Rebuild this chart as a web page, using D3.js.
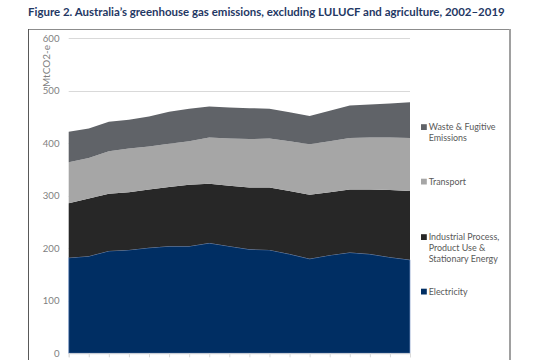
<!DOCTYPE html>
<html>
<head>
<meta charset="utf-8">
<script src="https://cdn.jsdelivr.net/npm/d3@7"></script>
<style>
  html, body { margin: 0; padding: 0; background: #fff; }
  svg { display: block; }
  text { font-family: Lato, "Open Sans", sans-serif; }
</style>
</head>
<body>
<svg id="chart" width="540" height="360"></svg>
<script>
// ---- data (MtCO2-e) ----
const years = [2002,2003,2004,2005,2006,2007,2008,2009,2010,2011,2012,2013,2014,2015,2016,2017,2018,2019];
const electricity = [182,185,195,197,201,204,204,210,204,198,197,189,180,187,192,189,183,178];
const industrial  = [104,110,109,110,111,113,117,113,115,118,119,120,122,120,120,123,128,131];
const transport   = [78,77,81,83,82,82,83,88,90,92,93,95,96,97,98,99,100,101];
const waste       = [58,56,56,55,57,61,62,59,59,59,57,55,54,58,62,63,65,68];
const yTicks = [0,100,200,300,400,500,600];
const seriesKeys = ["electricity","industrial","transport","waste"];
const seriesValues = {electricity, industrial, transport, waste};
const legendLabels = {
  waste: ["Waste & Fugitive","Emissions"],
  transport: ["Transport"],
  industrial: ["Industrial Process,","Product Use &","Stationary Energy"],
  electricity: ["Electricity"]
};
const titleText = "Figure 2. Australia\u2019s greenhouse gas emissions, excluding LULUCF and agriculture, 2002\u20132019";
const yTitle = "MtCO2-e";

// ---- styles ----
const colors = {electricity:"#002e63", industrial:"#272727", transport:"#a6a6a6", waste:"#606368"};

const svg = d3.select("#chart");

function fitWidth(sel, target) {
  const w = sel.node().getComputedTextLength();
  const fs = parseFloat(sel.attr("font-size"));
  sel.attr("font-size", (fs * target / w).toFixed(2));
}

// title
const title = svg.append("text").attr("x", 28).attr("y", 15.5)
  .attr("font-size", 12).attr("font-weight", "bold").attr("fill", "#1f3864")
  .text(titleText);
fitWidth(title, 477);

// frame
svg.append("line").attr("x1",28).attr("x2",510).attr("y1",29.5).attr("y2",29.5).attr("stroke","#8c8c8c").attr("stroke-width",1);
svg.append("line").attr("x1",28.5).attr("x2",28.5).attr("y1",29).attr("y2",362).attr("stroke","#595959").attr("stroke-width",1);
svg.append("line").attr("x1",510).attr("x2",510).attr("y1",29).attr("y2",362).attr("stroke","#a0a0a0").attr("stroke-width",2);

// scales
const x = d3.scalePoint().domain(years).range([68.7, 410]);
const y = d3.scaleLinear().domain([0, 600]).range([353.3, 38.3]);

// gridlines
svg.append("g").selectAll("line").data(yTicks.filter(d => d > 0)).join("line")
  .attr("x1", 68.7).attr("x2", 410)
  .attr("y1", d => Math.round(y(d)) + 0.5).attr("y2", d => Math.round(y(d)) + 0.5)
  .attr("stroke", "#d9d9d9").attr("stroke-width", 1);

// stacked areas
const table = years.map((yr, i) => {
  const o = {year: yr};
  seriesKeys.forEach(k => o[k] = seriesValues[k][i]);
  return o;
});
const stacked = d3.stack().keys(seriesKeys)(table);
const area = d3.area().x(d => x(d.data.year)).y0(d => y(d[0])).y1(d => y(d[1]));

svg.append("g").selectAll("path").data(stacked).join("path")
  .attr("d", area)
  .attr("fill", d => colors[d.key])
  .attr("stroke", d => d.key === "electricity" ? "#7b97c6" : "none")
  .attr("stroke-width", 0.7);

// x axis baseline & ticks
const xAxis = d3.axisBottom(x).tickSize(4).tickFormat("");
const gx = svg.append("g").attr("transform", `translate(0,${y(0)})`).call(xAxis);
gx.select(".domain").attr("stroke", "#d9d9d9");
gx.selectAll(".tick line").attr("stroke", "#d9d9d9");

// y axis labels
const yAxis = d3.axisLeft(y).tickValues(yTicks).tickSize(0).tickPadding(0);
const gy = svg.append("g").attr("transform", "translate(59.5,0)").call(yAxis);
gy.select(".domain").remove();
gy.selectAll(".tick text").attr("font-family", "Lato, sans-serif")
  .attr("font-size", 9.6).attr("fill", "#7f7f7f");

// y axis title
svg.append("text")
  .attr("transform", "translate(50,45) rotate(-90)")
  .attr("text-anchor", "end")
  .attr("font-size", 10).attr("fill", "#7f7f7f")
  .text(yTitle);

// legend
const legendPos = {waste: 130, transport: 184.5, industrial: 240, electricity: 294.5};
const lg = svg.append("g");
const legendOrder = ["waste","transport","industrial","electricity"];
legendOrder.forEach(k => {
  const by = legendPos[k];
  lg.append("rect").attr("x", 421).attr("y", by - 5.8).attr("width", 5.8).attr("height", 5.8)
    .attr("fill", colors[k]);
  legendLabels[k].forEach((line, j) => {
    lg.append("text").attr("x", 428.7).attr("y", by + j * 11.2)
      .attr("font-size", 9).attr("fill", "#595959").attr("class", "lgt").text(line);
  });
});
// fit legend font via the widest line
const probe = lg.selectAll(".lgt").filter(function(){ return this.textContent === "Industrial Process,"; });
const w0 = probe.node().getComputedTextLength();
const fs = 9 * 70.6 / w0;
lg.selectAll(".lgt").attr("font-size", fs.toFixed(2));
</script>
</body>
</html>
